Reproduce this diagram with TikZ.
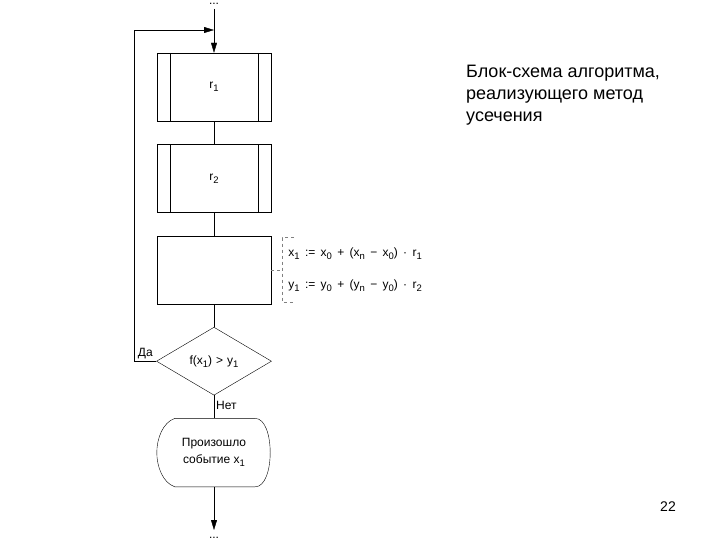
\documentclass[tikz,border=0pt]{standalone}
\usepackage{fontspec}
\setmainfont{Liberation Sans}
\usetikzlibrary{arrows.meta,positioning,shapes.geometric,calc}
\newcommand{\ix}[1]{\raisebox{-3pt}{\fontsize{9.5}{10}\selectfont #1}}

\begin{document}
\begin{tikzpicture}[
  x=1pt, y=1pt,
  node distance=23pt,
  box/.style={draw, minimum width=114pt, minimum height=68pt, inner sep=0pt, align=center, font=\fontsize{12}{17}\selectfont},
  cond/.style={draw, diamond, minimum width=115pt, minimum height=68pt, inner sep=0pt, font=\fontsize{12}{14}\selectfont},
  arr/.style={-{Triangle[length=10pt,width=6pt]}},
  note/.style={draw=gray, dashed, thin},
  lbl/.style={font=\fontsize{12}{14}\selectfont, inner sep=2pt},
  dots/.style={font=\fontsize{12}{14}\selectfont, inner sep=0.5pt, text height=1.5pt, text depth=0pt}
]
  \useasboundingbox (0,0) rectangle (720,-540);

  % flowchart blocks
  \node[box] (r1) at (214,-87) {r\ix{1}};
  \node[box, below=of r1] (r2) {r\ix{2}};
  \node[box, below=of r2] (calc) {};
  \node[cond, below=of calc] (dec) {f(x\ix{1})\,\,>\,\,y\ix{1}};
  \node[box, draw=none, below=of dec] (ev) {Произошло\\событие x\ix{1}};

  % side bars of the predefined process blocks
  \foreach \b in {r1,r2} {
    \draw ([xshift=13pt]\b.north west) -- ([xshift=13pt]\b.south west);
    \draw ([xshift=-13pt]\b.north east) -- ([xshift=-13pt]\b.south east);
  }

  % display shape
  \draw ([xshift=18pt]ev.north west) -- ([xshift=-16pt]ev.north east)
    .. controls ([xshift=4pt]ev.north east) and ([xshift=4pt]ev.south east) .. ([xshift=-16pt]ev.south east)
    -- ([xshift=18pt]ev.south west)
    .. controls ([xshift=6pt,yshift=4pt]ev.south west) and ([yshift=-14pt]ev.west) .. (ev.west)
    .. controls ([yshift=14pt]ev.west) and ([xshift=6pt,yshift=-4pt]ev.north west) .. cycle;

  % comment to the calculation block
  \draw[note] (calc.east) -- ++(11pt,0);
  \draw[note] ($(calc.north east)+(23pt,-2pt)$) -- ($(calc.north east)+(11pt,-2pt)$)
    -- ($(calc.south east)+(11pt,2pt)$) -- ($(calc.south east)+(23pt,2pt)$);
  \node[lbl, anchor=west] (fx) at ($(calc.east)+(15pt,16pt)$)
    {x\ix{1}\, :=\, x\ix{0}\, +\, (x\ix{n}\, −\, x\ix{0})\, ·\, r\ix{1}};
  \node[lbl, anchor=west] (fy) at ($(calc.east)+(15pt,-16pt)$)
    {y\ix{1}\, :=\, y\ix{0}\, +\, (y\ix{n}\, −\, y\ix{0})\, ·\, r\ix{2}};

  % connectors
  \node[dots, anchor=base] (dtop) at (214,-5) {...};
  \coordinate (top) at (214,-9);
  \coordinate (join) at (214,-30);
  \coordinate (end) at (214,-530);
  \node[dots, anchor=base] (dbot) at (214,-538) {...};

  \draw[arr] (top) -- (r1);
  \draw (r1) -- (r2);
  \draw (r2) -- (calc);
  \draw (calc) -- (dec);
  \draw (dec) -- node[lbl, right, pos=0.45] {Нет} (ev);
  \draw[arr] (dec.west) -- node[lbl, above] {Да} ++(-22pt,0) |- (join);
  \draw[arr] (ev) -- (end);

  % caption and page number
  \node[anchor=base west, align=left, inner sep=0pt, font=\fontsize{18}{22}\selectfont] (title) at (466,-122)
    {Блок-схема алгоритма,\\реализующего метод\\усечения};
  \node[font=\fontsize{14}{16}\selectfont] (page) at (668,-507) {22};
\end{tikzpicture}
\end{document}
